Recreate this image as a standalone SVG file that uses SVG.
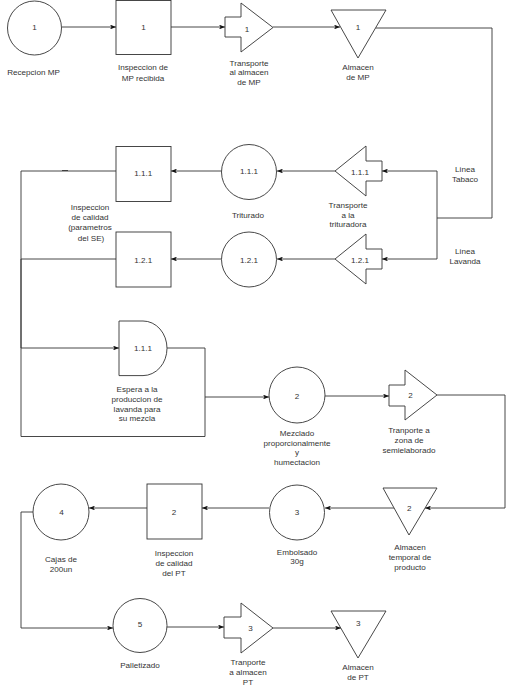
<svg xmlns="http://www.w3.org/2000/svg" width="511" height="687" viewBox="0 0 511 687">
<style>
.s{fill:#fff;stroke:#333;stroke-width:0.9}
.e{fill:none;stroke:#333;stroke-width:0.9}
text{font-family:"Liberation Sans",Arial,sans-serif;font-size:8.1px;fill:#333;text-anchor:middle}
</style>
<defs>
<marker id="a" viewBox="0 0 10 8" refX="10" refY="4" markerWidth="6" markerHeight="4.8" markerUnits="userSpaceOnUse" orient="auto">
<path d="M0,0 L10,4 L0,8 L2.5,4 Z" fill="#111"/>
</marker>
</defs>
<rect width="511" height="687" fill="#fff"/>
<g id="connectors">
<path class="e" d="M62,27 H116" marker-end="url(#a)"/>
<path class="e" d="M171,27 H225" marker-end="url(#a)"/>
<path class="e" d="M273,27 H340" marker-end="url(#a)"/>
<path class="e" d="M375.5,28 H492 V218 H437 V171 H382" marker-end="url(#a)"/>
<path class="e" d="M437,218 V259 H382" marker-end="url(#a)"/>
<path class="e" d="M335,171 H277" marker-end="url(#a)"/>
<path class="e" d="M221.5,171 H171" marker-end="url(#a)"/>
<path class="e" d="M335,259 H277" marker-end="url(#a)"/>
<path class="e" d="M221.5,259 H171" marker-end="url(#a)"/>
<path class="e" d="M116,171 H21 V348 H119" marker-end="url(#a)"/>
<path class="e" d="M62,170.5 H68" stroke-width="1.4"/>
<path class="e" d="M116,259 H21 V436.5 H205 V397"/>
<path class="e" d="M167,348 H205 V397 H269" marker-end="url(#a)"/>
<path class="e" d="M325,396 H389" marker-end="url(#a)"/>
<path class="e" d="M437,395 H505 V508 H425" marker-end="url(#a)"/>
<path class="e" d="M395,508 H325" marker-end="url(#a)"/>
<path class="e" d="M269,508 H202" marker-end="url(#a)"/>
<path class="e" d="M147,508 H89" marker-end="url(#a)"/>
<path class="e" d="M33,512 H21 V628 H113" marker-end="url(#a)"/>
<path class="e" d="M167,627 H224" marker-end="url(#a)"/>
<path class="e" d="M273,628 H341" marker-end="url(#a)"/>
<text x="465" y="172">Linea</text>
<text x="465" y="182">Tabaco</text>
<text x="465" y="254">Linea</text>
<text x="465" y="264">Lavanda</text>
</g>
<g id="n-recepcion">
<circle class="s" cx="34.5" cy="28" r="27"/>
<text x="34.5" y="30">1</text>
<text x="33.5" y="75">Recepcion MP</text>
</g>
<g id="n-inspeccion-mp">
<rect class="s" x="116" y="0.5" width="55" height="54"/>
<text x="143.5" y="30">1</text>
<text x="143" y="70">Inspeccion de</text>
<text x="143" y="80.5">MP recibida</text>
</g>
<g id="n-transporte-1">
<polygon class="s" points="225,17 241,17 241,3 273,27.5 241,52 241,37 225,37"/>
<text x="247" y="32">1</text>
<text x="249" y="65.5">Transporte</text>
<text x="249" y="75">al almacen</text>
<text x="249" y="84.5">de MP</text>
</g>
<g id="n-almacen-mp">
<polygon class="s" points="331,10 386,10 358,58"/>
<text x="358" y="30">1</text>
<text x="358" y="69.7">Almacen</text>
<text x="358" y="80">de MP</text>
</g>
<g id="n-transporte-111">
<polygon class="s" points="335,171 366,146 366,161 382,161 382,181 366,181 366,196"/>
<text x="360" y="175">1.1.1</text>
<text x="348" y="208">Transporte</text>
<text x="348" y="217.5">a la</text>
<text x="348" y="227.3">trituradora</text>
</g>
<g id="n-triturado">
<circle class="s" cx="249" cy="172" r="27.5"/>
<text x="249" y="173.5">1.1.1</text>
<text x="248" y="218">Triturado</text>
</g>
<g id="n-inspeccion-111">
<rect class="s" x="116" y="146.5" width="55" height="55"/>
<text x="143.3" y="176">1.1.1</text>
<text x="90" y="209.7">Inspeccion</text>
<text x="90" y="219.7">de calidad</text>
<text x="90" y="230.3">(parametros</text>
<text x="91" y="241">del SE)</text>
</g>
<g id="n-transporte-121">
<polygon class="s" points="335,259 366,234 366,249 382,249 382,269 366,269 366,284"/>
<text x="360" y="263">1.2.1</text>
</g>
<g id="n-circulo-121">
<circle class="s" cx="249" cy="259.5" r="27.5"/>
<text x="249" y="262.5">1.2.1</text>
</g>
<g id="n-inspeccion-121">
<rect class="s" x="116" y="232" width="55" height="55"/>
<text x="143.3" y="263">1.2.1</text>
</g>
<g id="n-espera">
<path class="s" d="M119,321 H143 A24,27.3 0 0 1 143,375.6 H119 Z"/>
<text x="143" y="351">1.1.1</text>
<text x="137" y="392.3">Espera a la</text>
<text x="137" y="402.3">produccion de</text>
<text x="137" y="412">lavanda para</text>
<text x="137" y="421.3">su mezcla</text>
</g>
<g id="n-mezclado">
<circle class="s" cx="297" cy="395" r="28"/>
<text x="297" y="399">2</text>
<text x="297" y="436">Mezclado</text>
<text x="297" y="445.7">proporcionalmente</text>
<text x="297" y="455">y</text>
<text x="297" y="464.7">humectacion</text>
</g>
<g id="n-transporte-2">
<polygon class="s" points="389,385 405,385 405,370 437,395 405,420 405,406 389,406"/>
<text x="410.5" y="398">2</text>
<text x="409" y="433">Tranporte a</text>
<text x="409" y="443">zona de</text>
<text x="409" y="453">semielaborado</text>
</g>
<g id="n-almacen-temporal">
<polygon class="s" points="383,488 437,488 409,535"/>
<text x="409.3" y="510.7">2</text>
<text x="410" y="550">Almacen</text>
<text x="410" y="560">temporal de</text>
<text x="410" y="570">producto</text>
</g>
<g id="n-embolsado">
<circle class="s" cx="297" cy="512.5" r="27.5"/>
<text x="297" y="515">3</text>
<text x="297" y="554.7">Embolsado</text>
<text x="297" y="564">30g</text>
</g>
<g id="n-inspeccion-pt">
<rect class="s" x="147" y="484" width="55" height="55"/>
<text x="174" y="514.7">2</text>
<text x="174" y="556.3">Inspeccion</text>
<text x="174" y="566.3">de calidad</text>
<text x="174" y="576.3">del PT</text>
</g>
<g id="n-cajas">
<circle class="s" cx="61" cy="512" r="28"/>
<text x="61.5" y="514.7">4</text>
<text x="61" y="562">Cajas de</text>
<text x="61" y="572">200un</text>
</g>
<g id="n-palletizado">
<circle class="s" cx="140" cy="625.5" r="27"/>
<text x="140" y="626.5">5</text>
<text x="140" y="668">Palletizado</text>
</g>
<g id="n-transporte-3">
<polygon class="s" points="224,617 241,617 241,603 273,628 241,653 241,638 224,638"/>
<text x="250.5" y="631.3">3</text>
<text x="248" y="664.7">Tranporte</text>
<text x="248" y="674.7">a almacen</text>
<text x="248" y="684.7">PT</text>
</g>
<g id="n-almacen-pt">
<polygon class="s" points="331,611 386,611 358,658"/>
<text x="358.3" y="626.3">3</text>
<text x="358" y="670">Almacen</text>
<text x="358" y="680">de PT</text>
</g>
</svg>
